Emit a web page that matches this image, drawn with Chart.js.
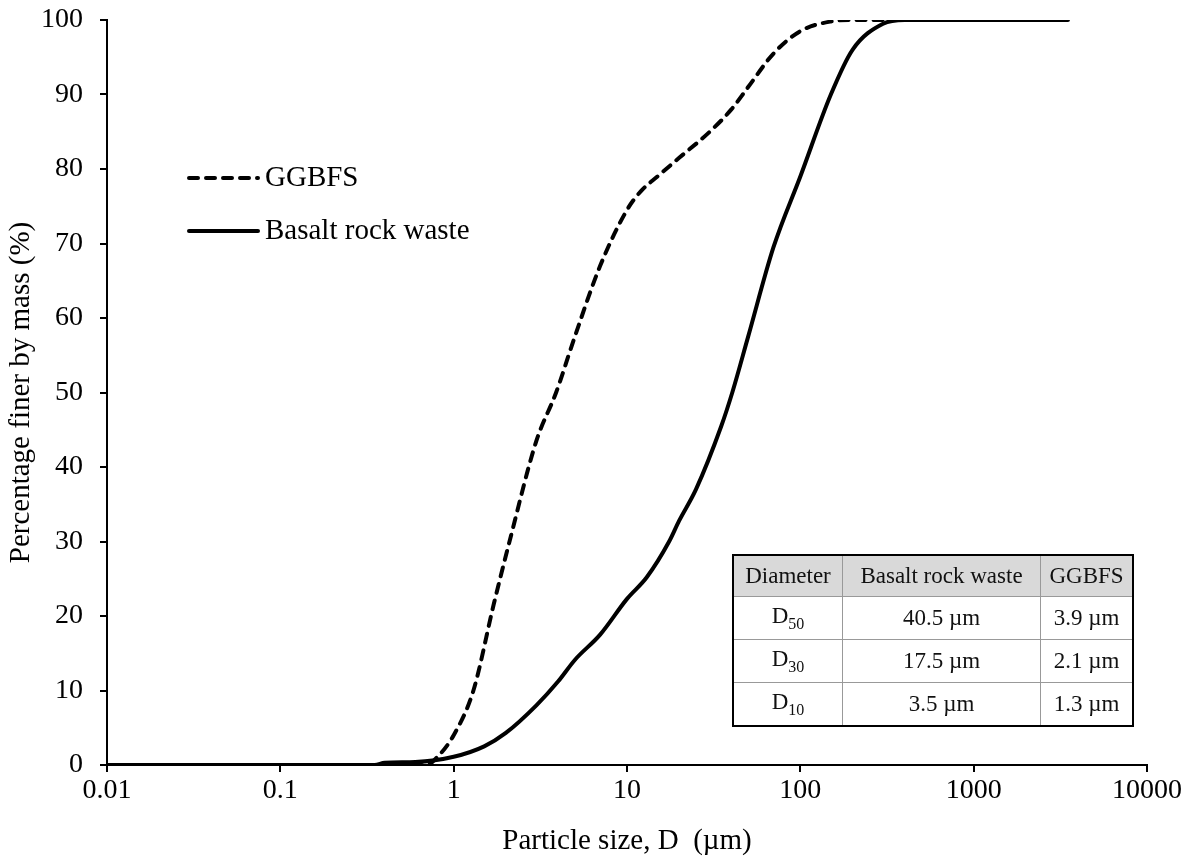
<!DOCTYPE html>
<html>
<head>
<meta charset="utf-8">
<script src="https://cdn.jsdelivr.net/npm/chart.js@4.4.0/dist/chart.umd.min.js"></script>
<style>
  body { margin: 0; background: #fff; }
  #wrap { position: relative; width: 1196px; height: 861px; }
  #psd { position: absolute; left: 0; top: 0; }
  table.d {
    position: absolute; left: 732px; top: 554px;
    border-collapse: collapse; border: 2px solid #000;
    font-family: "Liberation Serif", "Times New Roman", serif; font-size: 23px; color: #111;
  }
  table.d td { border: 1px solid #999; text-align: center; padding: 0; height: 42px; }
  table.d tr.h td { background: #d9d9d9; height: 40px; }
  table.d sub { font-size: 16px; }
</style>
</head>
<body>
<div id="wrap">
  <canvas id="psd" width="1196" height="861"></canvas>
  <table class="d">
    <tr class="h"><td style="width:108px">Diameter</td><td style="width:197px">Basalt rock waste</td><td style="width:91px">GGBFS</td></tr>
    <tr><td>D<sub>50</sub></td><td>40.5 µm</td><td>3.9 µm</td></tr>
    <tr><td>D<sub>30</sub></td><td>17.5 µm</td><td>2.1 µm</td></tr>
    <tr><td>D<sub>10</sub></td><td>3.5 µm</td><td>1.3 µm</td></tr>
  </table>
</div>
<script>
// particle size (µm) and % finer
const ggbfsSize = [0.01, 0.1, 0.5, 0.7, 0.8, 1.0, 1.3, 1.7, 2.1, 3, 3.9, 5, 7, 10, 12, 15, 20, 30, 40, 50, 70, 100, 150, 200, 3500];
const ggbfsPct  = [0, 0, 0, 0, 1, 4, 10, 21.5, 30, 43.5, 50, 57.5, 67, 74.5, 77, 79, 81.5, 85, 88, 91, 95.5, 98.5, 99.8, 100, 100];

const basaltSize = [0.01, 0.1, 0.35, 0.4, 0.6, 1, 1.5, 2, 3, 4, 5, 7, 10, 13, 17.5, 20, 25, 35, 40.5, 50, 70, 100, 150, 200, 300, 400, 3500];
const basaltPct  = [0, 0, 0, 0.3, 0.4, 1.1, 2.5, 4.3, 8, 11.2, 14.1, 17.5, 22.3, 25.2, 30, 32.8, 37, 45.5, 50, 57.5, 69.5, 79, 90, 96, 99.5, 100, 100];

const xTicks = [0.01, 0.1, 1, 10, 100, 1000, 10000];
const yTicks = [0, 10, 20, 30, 40, 50, 60, 70, 80, 90, 100];

const serif = '"Liberation Serif", "Times New Roman", serif';

const pts = (xs, ys) => xs.map((x, i) => ({ x: x, y: ys[i] }));

// simple legend drawn inside the plot, top-left
const legendBox = {
  id: 'legendBox',
  afterDraw(chart) {
    const c = chart.ctx;
    const rows = [
      { ds: chart.data.datasets[0], y: 178 },
      { ds: chart.data.datasets[1], y: 231 }
    ];
    c.save();
    rows.forEach(r => {
      c.beginPath();
      c.lineWidth = r.ds.borderWidth;
      c.strokeStyle = r.ds.borderColor;
      c.lineCap = 'round';
      c.setLineDash(r.ds.borderDash || []);
      c.moveTo(189, r.y);
      c.lineTo(258, r.y);
      c.stroke();
      c.setLineDash([]);
      c.fillStyle = '#000';
      c.font = '29px ' + serif;
      c.textBaseline = 'middle';
      c.fillText(r.ds.label, 265, r.y);
    });
    c.restore();
  }
};

new Chart(document.getElementById('psd'), {
  type: 'line',
  data: {
    datasets: [
      {
        label: 'GGBFS',
        data: pts(ggbfsSize, ggbfsPct),
        borderColor: '#000',
        borderWidth: 4,
        borderDash: [9, 8],
        borderCapStyle: 'round',
        pointRadius: 0,
        cubicInterpolationMode: 'monotone',
        fill: false
      },
      {
        label: 'Basalt rock waste',
        data: pts(basaltSize, basaltPct),
        borderColor: '#000',
        borderWidth: 4,
        pointRadius: 0,
        cubicInterpolationMode: 'monotone',
        fill: false
      }
    ]
  },
  options: {
    responsive: false,
    animation: false,
    layout: { padding: { top: 20, right: 49, left: 0, bottom: 0 } },
    plugins: { legend: { display: false }, tooltip: { enabled: false } },
    scales: {
      x: {
        type: 'logarithmic',
        min: 0.01,
        max: 10000,
        afterBuildTicks: s => { s.ticks = xTicks.map(v => ({ value: v })); },
        afterFit: s => { s.height = 96; },
        border: { display: true, color: '#000', width: 2 },
        grid: { drawOnChartArea: false, drawTicks: true, tickLength: 7, color: '#000', lineWidth: 2 },
        ticks: {
          color: '#000',
          font: { family: serif, size: 28 },
          padding: 2,
          maxRotation: 0,
          callback: v => String(v)
        },
        title: {
          display: true,
          text: 'Particle size, D  (µm)',
          color: '#000',
          font: { family: serif, size: 29 },
          padding: { top: 4, bottom: 2 }
        }
      },
      y: {
        min: 0,
        max: 100,
        afterBuildTicks: s => { s.ticks = yTicks.map(v => ({ value: v })); },
        afterFit: s => { s.width = 107; s.paddingTop = 0; s.paddingBottom = 0; },
        border: { display: true, color: '#000', width: 2 },
        grid: { drawOnChartArea: false, drawTicks: true, tickLength: 7, color: '#000', lineWidth: 2 },
        ticks: {
          color: '#000',
          font: { family: serif, size: 28 },
          padding: 17
        },
        title: {
          display: true,
          text: 'Percentage finer by mass (%)',
          color: '#000',
          font: { family: serif, size: 29 },
          padding: { bottom: 2 }
        }
      }
    }
  },
  plugins: [legendBox]
});
</script>
</body>
</html>
